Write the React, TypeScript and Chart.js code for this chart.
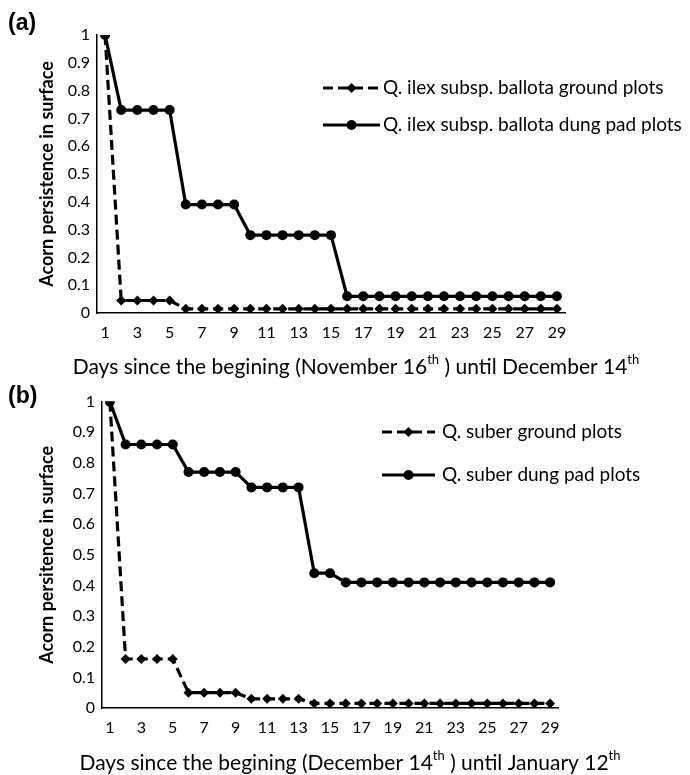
import React, { useEffect, useRef } from 'react';
import { Chart, registerables } from 'chart.js';

Chart.register(...registerables);

const days = ['1', '2', '3', '4', '5', '6', '7', '8', '9', '10', '11', '12', '13', '14', '15', '16', '17', '18', '19', '20', '21', '22', '23', '24', '25', '26', '27', '28', '29'];

const ilexGround = [1, 0.045, 0.045, 0.045, 0.045, 0.015, 0.015, 0.015, 0.015, 0.015, 0.015, 0.015, 0.015, 0.015, 0.015, 0.015, 0.015, 0.015, 0.015, 0.015, 0.015, 0.015, 0.015, 0.015, 0.015, 0.015, 0.015, 0.015, 0.015];
const ilexDung = [1, 0.73, 0.73, 0.73, 0.73, 0.39, 0.39, 0.39, 0.39, 0.28, 0.28, 0.28, 0.28, 0.28, 0.28, 0.06, 0.06, 0.06, 0.06, 0.06, 0.06, 0.06, 0.06, 0.06, 0.06, 0.06, 0.06, 0.06, 0.06];
const suberGround = [1, 0.16, 0.16, 0.16, 0.16, 0.05, 0.05, 0.05, 0.05, 0.03, 0.03, 0.03, 0.03, 0.015, 0.015, 0.015, 0.015, 0.015, 0.015, 0.015, 0.015, 0.015, 0.015, 0.015, 0.015, 0.015, 0.015, 0.015, 0.015];
const suberDung = [1, 0.86, 0.86, 0.86, 0.86, 0.77, 0.77, 0.77, 0.77, 0.72, 0.72, 0.72, 0.72, 0.44, 0.44, 0.41, 0.41, 0.41, 0.41, 0.41, 0.41, 0.41, 0.41, 0.41, 0.41, 0.41, 0.41, 0.41, 0.41];

const panelLabelA = '(a)';
const panelLabelB = '(b)';
const legendA = ['Q. ilex subsp. ballota ground plots', 'Q. ilex subsp. ballota dung pad plots'];
const legendB = ['Q. suber ground plots', 'Q. suber dung pad plots'];
const yTitleA = 'Acorn persistence in surface';
const yTitleB = 'Acorn persitence in surface';
const xTitleA: [string, boolean][] = [['Days since the begining (November 16', false], ['th', true], [' ) until December 14', false], ['th', true]];
const xTitleB: [string, boolean][] = [['Days since the begining (December 14', false], ['th', true], [' ) until January 12', false], ['th', true]];

const FONT = 'Lato';

type PanelCfg = {
  top: number;
  height: number;
  padTop: number;
  padRight: number;
  yWidth: number;
  xHeight: number;
  panel: string;
  panelY: number;
  legend: string[];
  legendX0: number;
  legendX1: number;
  legendTextX: number;
  legendY: number[];
  yTitle: string;
  xTitle: [string, boolean][];
  xTitleCx: number;
  xTitleY: number;
  ground: number[];
  dung: number[];
};

function makeOverlay(cfg: PanelCfg) {
  return {
    id: 'overlay',
    afterDraw(chart: any) {
      const ctx: CanvasRenderingContext2D = chart.ctx;
      ctx.save();
      ctx.fillStyle = '#000';
      ctx.strokeStyle = '#000';
      // panel letter
      ctx.font = `bold 23px "Liberation Sans"`;
      ctx.textBaseline = 'middle';
      ctx.textAlign = 'left';
      ctx.fillText(cfg.panel, 8, cfg.panelY);
      // legend
      chart.data.datasets.forEach((ds: any, i: number) => {
        const y = cfg.legendY[i];
        ctx.lineWidth = ds.borderWidth;
        ctx.setLineDash(ds.borderDash || []);
        ctx.beginPath();
        ctx.moveTo(cfg.legendX0, y);
        ctx.lineTo(cfg.legendX1, y);
        ctx.stroke();
        ctx.setLineDash([]);
        const mx = (cfg.legendX0 + cfg.legendX1) / 2;
        const r = ds.pointRadius;
        ctx.beginPath();
        if (ds.pointStyle === 'rectRot') {
          ctx.moveTo(mx - r, y);
          ctx.lineTo(mx, y - r);
          ctx.lineTo(mx + r, y);
          ctx.lineTo(mx, y + r);
          ctx.closePath();
        } else {
          ctx.arc(mx, y, r, 0, Math.PI * 2);
        }
        ctx.fill();
        ctx.font = `19px ${FONT}`;
        ctx.textBaseline = 'middle';
        ctx.textAlign = 'left';
        ctx.fillText(ds.label, cfg.legendTextX, y);
      });
      // x title with superscripts
      const big = `21px ${FONT}`;
      const small = `13px ${FONT}`;
      let total = 0;
      cfg.xTitle.forEach(([t, sup]) => {
        ctx.font = sup ? small : big;
        total += ctx.measureText(t).width;
      });
      let x = cfg.xTitleCx - total / 2;
      ctx.textBaseline = 'middle';
      cfg.xTitle.forEach(([t, sup]) => {
        ctx.font = sup ? small : big;
        ctx.fillText(t, x, sup ? cfg.xTitleY - 7 : cfg.xTitleY);
        x += ctx.measureText(t).width;
      });
      ctx.restore();
    },
  };
}

function Panel({ cfg }: { cfg: PanelCfg }) {
  const ref = useRef<HTMLCanvasElement | null>(null);
  useEffect(() => {
    if (!ref.current) return;
    const chart = new Chart(ref.current, {
      type: 'line',
      data: {
        labels: days,
        datasets: [
          {
            label: cfg.legend[0],
            data: cfg.ground,
            borderColor: '#000',
            backgroundColor: '#000',
            borderWidth: 3.2,
            borderDash: [10, 5],
            pointStyle: 'rectRot',
            pointRadius: 5,
            pointBorderWidth: 0,
            pointBackgroundColor: '#000',
            tension: 0,
            order: 1,
          } as any,
          {
            label: cfg.legend[1],
            data: cfg.dung,
            borderColor: '#000',
            backgroundColor: '#000',
            borderWidth: 3.2,
            pointStyle: 'circle',
            pointRadius: 5,
            pointBorderWidth: 0,
            pointBackgroundColor: '#000',
            tension: 0,
            order: 0,
          } as any,
        ],
      },
      options: {
        responsive: false,
        animation: false,
        events: [],
        layout: { padding: { top: cfg.padTop, right: cfg.padRight, left: 0, bottom: 0 } },
        plugins: { legend: { display: false }, tooltip: { enabled: false }, title: { display: false } },
        scales: {
          x: {
            type: 'category',
            offset: true,
            grid: { display: false, drawTicks: false },
            border: { display: true, color: '#000', width: 1.5 },
            ticks: {
              autoSkip: false,
              maxRotation: 0,
              padding: 10,
              color: '#000',
              font: { family: FONT, size: 16 },
              callback: (_v: any, i: number) => (i % 2 === 0 ? days[i] : ''),
            },
            afterFit: (s: any) => {
              s.height = cfg.xHeight;
            },
          },
          y: {
            min: 0,
            max: 1,
            grid: { display: false, drawTicks: false },
            border: { display: true, color: '#000', width: 1.5 },
            ticks: {
              stepSize: 0.1,
              padding: 7,
              color: '#000',
              font: { family: FONT, size: 16 },
              callback: (v: any) => String(Math.round(Number(v) * 10) / 10),
            },
            title: {
              display: true,
              text: cfg.yTitle,
              color: '#000',
              font: { family: FONT, size: 18, weight: 'bold' },
              padding: { top: 36, bottom: 0 },
            },
            afterFit: (s: any) => {
              s.width = cfg.yWidth;
            },
          },
        },
      } as any,
      plugins: [makeOverlay(cfg)],
    });
    return () => chart.destroy();
  }, [cfg]);
  return (
    <canvas
      ref={ref}
      width={690}
      height={cfg.height}
      style={{ position: 'absolute', left: 0, top: cfg.top, width: 690, height: cfg.height }}
    />
  );
}

const cfgA: PanelCfg = {
  top: 0,
  height: 385,
  padTop: 35,
  padRight: 125,
  yWidth: 97,
  xHeight: 72,
  panel: panelLabelA,
  panelY: 24,
  legend: legendA,
  legendX0: 323,
  legendX1: 380,
  legendTextX: 383,
  legendY: [88, 125],
  yTitle: yTitleA,
  xTitle: xTitleA,
  xTitleCx: 356,
  xTitleY: 367,
  ground: ilexGround,
  dung: ilexDung,
};

const cfgB: PanelCfg = {
  top: 385,
  height: 390,
  padTop: 14,
  padRight: 132,
  yWidth: 102,
  xHeight: 67,
  panel: panelLabelB,
  panelY: 12,
  legend: legendB,
  legendX0: 382,
  legendX1: 435,
  legendTextX: 442,
  legendY: [47, 90],
  yTitle: yTitleB,
  xTitle: xTitleB,
  xTitleCx: 350,
  xTitleY: 378,
  ground: suberGround,
  dung: suberDung,
};

export default function App() {
  return (
    <div style={{ position: 'absolute', left: 0, top: 0, width: 690, height: 775, background: '#fff', overflow: 'hidden' }}>
      <Panel cfg={cfgA} />
      <Panel cfg={cfgB} />
    </div>
  );
}
